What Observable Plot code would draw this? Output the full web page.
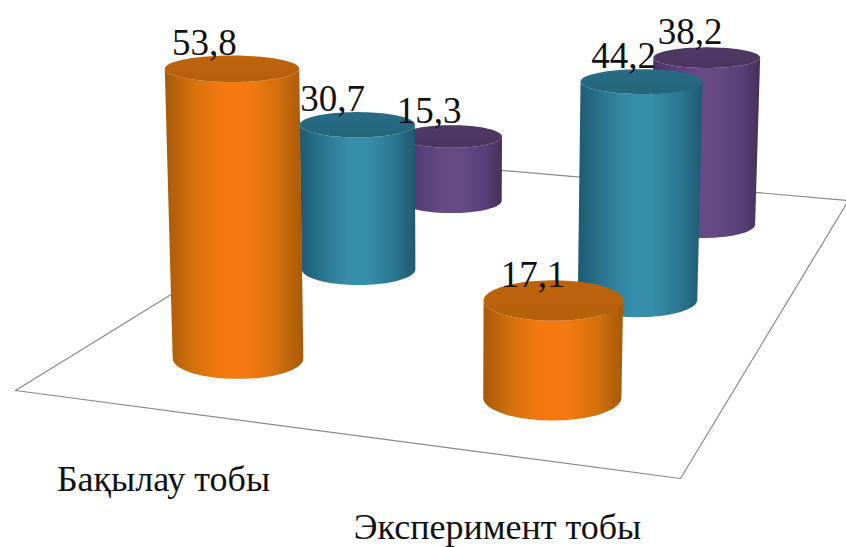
<!DOCTYPE html>
<html>
<head>
<meta charset="utf-8">
<script src="https://cdn.jsdelivr.net/npm/d3@7"></script>
<script src="https://cdn.jsdelivr.net/npm/@observablehq/plot@0.6"></script>
<style>
  html, body { margin: 0; padding: 0; background: #fff; }
  svg { display: block; }
</style>
</head>
<body>
<div id="chart"></div>
<script>
// Survey results per group, one value per response series.
const groups = ["Бақылау тобы", "Эксперимент тобы"];
const seriesNames = ["high", "medium", "low"];
const controlValues = [53.8, 30.7, 15.3];
const experimentValues = [17.1, 44.2, 38.2];
const groupValues = [controlValues, experimentValues];

// Floor of the 3D scene: corners on screen (front-left, front-right, back-left, back-right).
const floor = {fl: [15, 390], fr: [680, 478], bl: [388, 160], br: [848, 200]};
const groupDepth = [0.23, 0.733];
const seriesDepth = [0.215, 0.585, 0.87];
const seriesPaint = ["orange", "teal", "purple"];

const paints = {
  orange: {edge: "#a65a0a", mid: "#d2700c", light: "#f6790f", cap: "#b5600a", capLight: "#bd640c"},
  teal:   {edge: "#1f5a70", mid: "#2b7690", light: "#378eaa", cap: "#246679", capLight: "#296c84"},
  purple: {edge: "#453159", mid: "#57407a", light: "#664a85", cap: "#4a3660", capLight: "#4f3a66"}
};

// Bilinear placement on the floor plane.
function ground(u, v) {
  const fx = floor.fl[0] + (floor.fr[0] - floor.fl[0]) * u;
  const fy = floor.fl[1] + (floor.fr[1] - floor.fl[1]) * u;
  const bx = floor.bl[0] + (floor.br[0] - floor.bl[0]) * u;
  const by = floor.bl[1] + (floor.br[1] - floor.bl[1]) * u;
  return [fx + (bx - fx) * v, fy + (by - fy) * v];
}

// Perspective helpers: nearer parts of the scene (lower on screen) are drawn larger.
const unitHeight = y => 2.66 + 0.0076 * y;
const radiusAt = y => 50 + (y - 198) * 0.0955;
const flatten = y => 0.17 + 0.0004 * y;
const lean = (x, h) => (x - 449) * 0.0000985 * h;
const spread = x => (x - 449) * 0.023;

const angles = d3.range(0, 181, 4).map(d => d * Math.PI / 180);

// One cylinder per group and series, farthest first so nearer ones overlap them.
const cylinders = [];
for (let s = seriesNames.length - 1; s >= 0; --s) {
  groups.forEach((group, g) => {
    const value = groupValues[g][s];
    const [cx, cy] = ground(groupDepth[g] + g * 0.015 * seriesDepth[s], seriesDepth[s]);
    const h = value * unitHeight(cy);
    const topY = cy - h;
    const topX = cx + lean(cx, h);
    const rx = radiusAt(cy);
    const topRx = rx * (1 + 0.0001 * h);
    cylinders.push({
      group, value, paint: seriesPaint[s],
      cx, cy, rx, ry: rx * flatten(cy),
      topX, topY, topRx, topRy: topRx * flatten(topY)
    });
  });
}

// Side wall: front half of the top rim joined to the front half of the bottom rim.
const wall = c => angles.map(t => ({
  x1: c.topX - c.topRx * Math.cos(t),
  y1: c.topY + c.topRy * Math.sin(t),
  x2: c.cx - c.rx * Math.cos(t),
  y2: c.cy + c.ry * Math.sin(t)
}));

// Cap: the full top ellipse as an area between its two halves.
const cap = c => angles.map(t => ({
  x: c.topX - c.topRx * Math.cos(t),
  y1: c.topY - c.topRy * Math.sin(t),
  y2: c.topY + c.topRy * Math.sin(t)
}));

const floorOutline = [floor.fl, floor.fr, floor.br, floor.bl, floor.fl];

// Gradient definitions for the rounded walls and caps.
function gradients() {
  const defs = d3.create("svg:defs");
  for (const [name, p] of Object.entries(paints)) {
    const g = defs.append("linearGradient").attr("id", "wall-" + name);
    [[0, p.edge], [0.2, p.mid], [0.42, p.light], [0.6, p.light], [0.82, p.mid], [1, p.edge]].forEach(([o, c]) =>
      g.append("stop").attr("offset", o).attr("stop-color", c));
    const k = defs.append("linearGradient").attr("id", "cap-" + name).attr("x2", 0).attr("y2", 1);
    [[0, p.capLight], [1, p.cap]].forEach(([o, c]) =>
      k.append("stop").attr("offset", o).attr("stop-color", c));
  }
  return defs.node();
}

const serif = "Liberation Serif, Times New Roman, serif";

const plot = Plot.plot({
  width: 846,
  height: 547,
  margin: 0,
  x: {domain: [0, 846], range: [0, 846], axis: null},
  y: {domain: [0, 547], range: [0, 547], axis: null},
  style: {background: "#fff"},
  marks: [
    gradients,
    Plot.line(floorOutline, {x: d => d[0], y: d => d[1], stroke: "#8a8a8a", strokeWidth: 1.2, curve: "linear"}),
    cylinders.flatMap(c => [
      Plot.area(wall(c), {x1: "x1", y1: "y1", x2: "x2", y2: "y2", fill: `url(#wall-${c.paint})`, curve: "linear"}),
      Plot.area(cap(c), {x1: "x", y1: "y1", x2: "x", y2: "y2", fill: `url(#cap-${c.paint})`, curve: "linear"})
    ]),
    Plot.text(cylinders, {
      x: d => d.topX + spread(d.topX),
      y: "topY",
      text: d => String(d.value).replace(".", ","),
      dx: -23,
      dy: -14,
      lineAnchor: "bottom",
      fontFamily: serif,
      fontSize: 37,
      fill: "#111"
    }),
    Plot.text(groups, {
      x: (d, i) => [163, 497][i],
      y: (d, i) => [490, 538][i],
      text: d => d,
      lineAnchor: "bottom",
      fontFamily: serif,
      fontSize: 36,
      fill: "#111"
    })
  ]
});

document.getElementById("chart").append(plot);
</script>
</body>
</html>
